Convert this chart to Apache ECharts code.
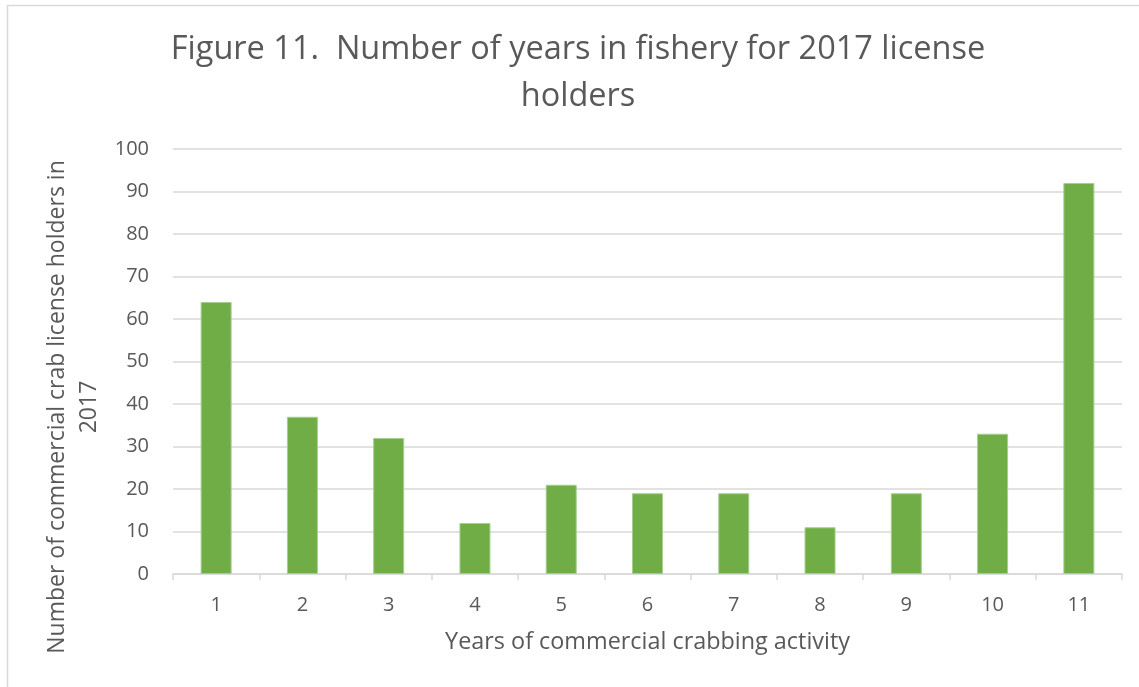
<!DOCTYPE html>
<html>
<head>
<meta charset="utf-8">
<script src="https://cdn.jsdelivr.net/npm/echarts@6/dist/echarts.min.js"></script>
<style>
  html, body { margin: 0; padding: 0; background: #ffffff; }
  #chart { width: 1139px; height: 687px; }
</style>
</head>
<body>
<div id="chart"></div>
<script>
// Years of commercial crabbing activity (categories)
const years = ['1', '2', '3', '4', '5', '6', '7', '8', '9', '10', '11'];
// Number of 2017 license holders for each number of years
const holders = [64, 37, 32, 12, 21, 19, 19, 11, 19, 33, 92];
// Value-axis range and step
const yMin = 0;
const yMax = 100;
const yStep = 10;

const titleText = 'Figure 11.  Number of years in fishery for 2017 license\nholders';
const xName = 'Years of commercial crabbing activity';
const yNameLines = ['Number of commercial crab license holders in', '2017'];

const FONT = '"Open Sans", "Noto Sans", sans-serif';
const TEXT = '#595959';
const LINE = '#d9d9d9';

const chart = echarts.init(document.getElementById('chart'), null, { renderer: 'canvas' });

chart.setOption({
  backgroundColor: '#ffffff',
  animation: false,
  title: {
    text: titleText,
    left: 573,
    textAlign: 'center',
    top: 21,
    textStyle: {
      fontFamily: FONT,
      fontSize: 32.5,
      fontWeight: 'normal',
      color: TEXT,
      lineHeight: 47
    }
  },
  grid: {
    left: 173,
    right: 17,
    top: 149,
    bottom: 113,
    containLabel: false
  },
  xAxis: {
    type: 'category',
    data: years,
    boundaryGap: true,
    name: xName,
    nameLocation: 'middle',
    nameGap: 57,
    nameTextStyle: { fontFamily: FONT, fontSize: 23.4, color: TEXT },
    axisLine: { show: true, lineStyle: { color: LINE, width: 1.5 } },
    axisTick: { show: true, alignWithLabel: false, length: 6, lineStyle: { color: LINE, width: 1.5 } },
    axisLabel: { fontFamily: FONT, fontSize: 20, color: TEXT, margin: 21 },
    splitLine: { show: false }
  },
  yAxis: {
    type: 'value',
    min: yMin,
    max: yMax,
    interval: yStep,
    axisLine: { show: false },
    axisTick: { show: false },
    axisLabel: { fontFamily: FONT, fontSize: 20, color: TEXT, margin: 24 },
    splitLine: { show: true, lineStyle: { color: LINE, width: 1.5 } }
  },
  series: [{
    type: 'bar',
    data: holders,
    barWidth: 31,
    itemStyle: {
      color: '#70ad47',
      borderColor: '#a5cf8c',
      borderWidth: 1
    }
  }],
  graphic: [
    {
      // outer chart frame
      type: 'rect',
      shape: { x: 7.5, y: 5.5, width: 1200, height: 800 },
      style: { fill: 'none', stroke: LINE, lineWidth: 1.5 },
      silent: true
    },
    {
      type: 'text',
      x: 57,
      y: 407,
      rotation: Math.PI / 2,
      style: {
        text: yNameLines[0],
        font: '23px ' + FONT,
        fill: TEXT,
        align: 'center',
        verticalAlign: 'middle'
      }
    },
    {
      type: 'text',
      x: 89,
      y: 407,
      rotation: Math.PI / 2,
      style: {
        text: yNameLines[1],
        font: '23px ' + FONT,
        fill: TEXT,
        align: 'center',
        verticalAlign: 'middle'
      }
    }
  ]
});
</script>
</body>
</html>
